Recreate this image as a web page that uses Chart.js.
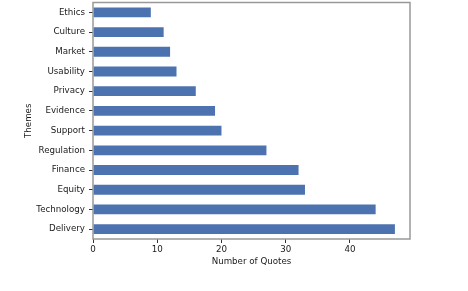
<!DOCTYPE html>
<html>
<head>
<meta charset="utf-8">
<script src="https://cdn.jsdelivr.net/npm/chart.js@4"></script>
<style>
  html, body { margin: 0; padding: 0; background: #fff; }
  #wrap { width: 468px; height: 291px; }
</style>
</head>
<body>
<div id="wrap"><canvas id="chart" width="468" height="291"></canvas></div>
<script>
/* ---------- Data ---------- */
const themes = ["Ethics", "Culture", "Market", "Usability", "Privacy", "Evidence",
                "Support", "Regulation", "Finance", "Equity", "Technology", "Delivery"];
const quoteCounts = [9, 11, 12, 13, 16, 19, 20, 27, 32, 33, 44, 47];
const xTicks = [0, 10, 20, 30, 40];

const FONT = { family: "'DejaVu Sans', sans-serif", size: 8.7 };
const SPINE = "#999999";

/* ---------- Frame (matplotlib-style spines) ---------- */
const framePlugin = {
  id: "frame",
  afterDatasetsDraw(chart) {
    const a = chart.chartArea;
    const ctx = chart.ctx;
    ctx.save();
    ctx.strokeStyle = SPINE;
    ctx.lineWidth = 1.5;
    ctx.strokeRect(a.left, a.top, a.right - a.left, a.bottom - a.top);
    ctx.restore();
  },
};

new Chart(document.getElementById("chart").getContext("2d"), {
  type: "bar",
  data: {
    labels: themes,
    datasets: [{
      label: "Number of Quotes",
      data: quoteCounts,
      backgroundColor: "#4c72b0",
      borderWidth: 0,
      barPercentage: 0.5,
      categoryPercentage: 1.0,
    }],
  },
  options: {
    indexAxis: "y",
    responsive: false,
    animation: false,
    layout: { padding: { left: 24, right: 58, top: 2.5, bottom: 24 } },
    plugins: { legend: { display: false }, tooltip: { enabled: false } },
    scales: {
      x: {
        min: 0,
        max: 49.35,
        afterFit: (s) => { s.height = 28; s.paddingLeft = 0; s.paddingRight = 0; },
        afterBuildTicks: (s) => { s.ticks = xTicks.map((v) => ({ value: v })); },
        ticks: { color: "#1a1a1a", font: FONT, padding: 2, maxRotation: 0 },
        grid: { drawOnChartArea: false, drawTicks: true, tickLength: 4, color: "#333" },
        border: { display: false },
        title: { display: true, text: "Number of Quotes", color: "#1a1a1a", font: FONT, padding: 0 },
      },
      y: {
        afterFit: (s) => { s.width = 69; s.paddingTop = 0; s.paddingBottom = 0; },
        ticks: { color: "#1a1a1a", font: FONT, padding: 4 },
        grid: { drawOnChartArea: false, drawTicks: true, tickLength: 4, color: "#333", offset: false },
        border: { display: false },
        title: { display: true, text: "Themes", color: "#1a1a1a", font: FONT, padding: 0 },
      },
    },
  },
  plugins: [framePlugin],
});
</script>
</body>
</html>
